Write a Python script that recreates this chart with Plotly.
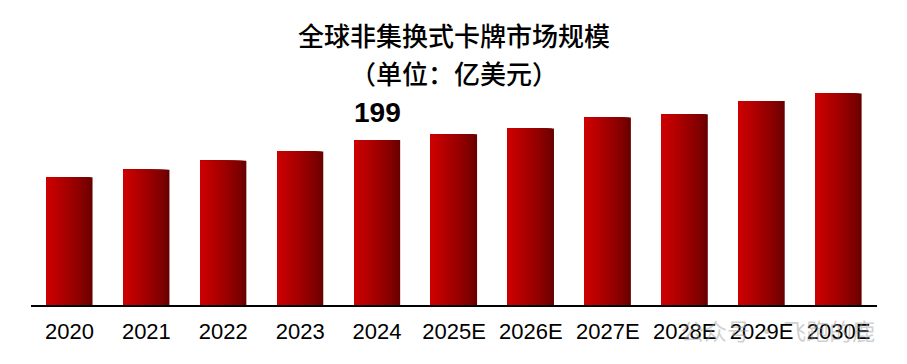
import plotly.graph_objects as go

categories = ["2020", "2021", "2022", "2023", "2024", "2025E", "2026E",
              "2027E", "2028E", "2029E", "2030E"]
values = [154, 163, 174, 185, 199, 206, 213, 226, 230, 246, 255]
label_index = 4
title_line1 = "全球非集换式卡牌市场规模"
title_line2 = "（单位：亿美元）"
watermark = "公众号 · 飞跑的鹿"

W = 0.6
N = 24
light = (204, 0, 0)
dark = (104, 0, 0)

fig = go.Figure()
for k in range(N):
    t = k / (N - 1)
    c = tuple(int(round(dark[i] + (light[i] - dark[i]) * (t ** 0.8))) for i in range(3))
    fig.add_trace(go.Bar(
        x=categories, y=values,
        width=W * (1 - k / N),
        offset=-W / 2,
        marker=dict(color="rgb(%d,%d,%d)" % c, line=dict(width=0)),
        showlegend=False, hoverinfo="skip" if k else "x+y",
    ))

# page body adds an 8px offset; margins compensate
ML, MT, MB, MR = 23, 62, 67, 38
PH = 364 - MT - MB

def py(view_y):
    return (364 - MB - (view_y - 8)) / PH

fig.update_layout(
    width=907, height=364,
    margin=dict(l=ML, r=MR, t=MT, b=MB),
    barmode="overlay",
    plot_bgcolor="white", paper_bgcolor="white",
    annotations=[
        dict(xref="paper", yref="paper", x=0.5, y=py(35),
             xanchor="center", yanchor="middle", text=title_line1, showarrow=False,
             font=dict(family="Noto Sans CJK SC", size=26, color="black", weight=500)),
        dict(xref="paper", yref="paper", x=0.5, y=py(72),
             xanchor="center", yanchor="middle", text=title_line2, showarrow=False,
             font=dict(family="Noto Sans CJK SC", size=26, color="black", weight=500)),
        dict(xref="x", yref="y", x=label_index, y=values[label_index],
             xanchor="center", yanchor="middle",
             text="<b>%d</b>" % values[label_index], showarrow=False,
             yshift=28,
             font=dict(family="Liberation Sans, Arial", size=28, color="black")),
        dict(xref="paper", yref="paper", x=(778 - 8 - ML) / (907 - ML - MR), y=py(330),
             xanchor="center", yanchor="middle", text=watermark, showarrow=False,
             opacity=0.45,
             font=dict(family="Noto Sans CJK SC", size=23, color="#999999")),
    ],
    xaxis=dict(type="category", showline=True, linecolor="black", linewidth=2, ticks="",
               showgrid=False, range=[-0.5, 10.5], ticklabelstandoff=6,
               tickfont=dict(family="Liberation Sans, Arial", size=22, color="black")),
    yaxis=dict(visible=False, range=[0, PH / (165 / 199)], showgrid=False),
)

fig.write_html("out.html")
